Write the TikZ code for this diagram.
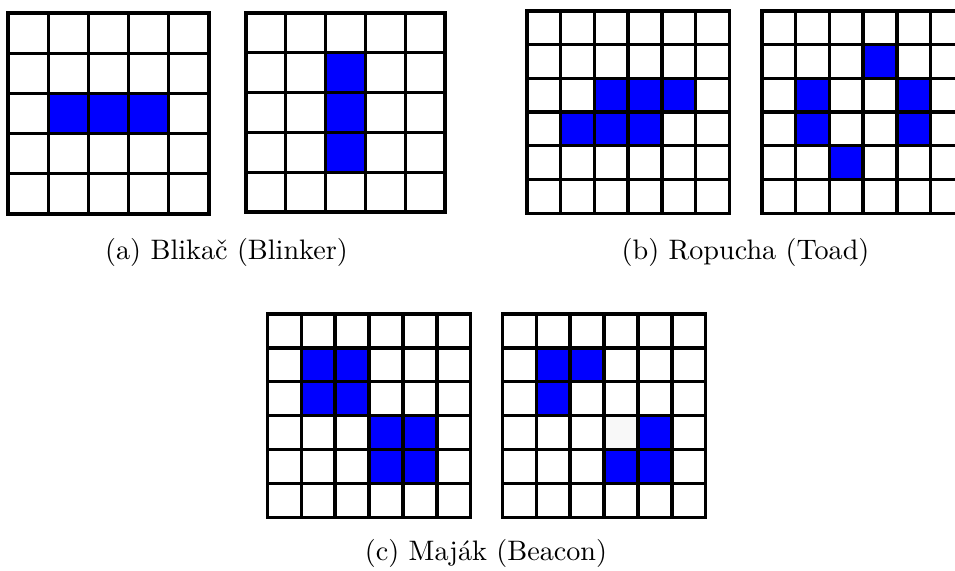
\documentclass[tikz,border=0pt]{standalone}
\usepackage{fontspec}
\definecolor{liveblue}{RGB}{0,0,255}
\definecolor{faintgray}{RGB}{248,248,248}
\newcommand{\lifegrid}[5]{%
  \foreach \cx/\cy in {#5} {\fill[live] ({#1+\cx*#3},{#2+\cy*#3}) rectangle +(#3,#3);}
  \foreach \k in {0,...,#4} {
    \draw[gridline] ({#1+\k*#3},#2) -- +(0,{#4*#3});
    \draw[gridline] (#1,{#2+\k*#3}) -- +({#4*#3},0);
  }
}
\begin{document}
\begin{tikzpicture}[x=0.355pt,y=-0.355pt,
  gridline/.style={line width=1.2pt, line cap=rect, black},
  live/.style={fill=liveblue},
  caption/.style={font=\fontsize{10}{12}\selectfont, inner sep=0pt}]
\useasboundingbox (0,0) rectangle (955,570);
\clip (0,0) rectangle (955,570);
% (a) Blinker
\lifegrid{8}{13}{40.2}{5}{1/2,2/2,3/2}
\lifegrid{246}{13}{39.8}{5}{2/1,2/2,2/3}
% (b) Toad
\lifegrid{527}{11}{33.7}{6}{2/2,3/2,4/2,1/3,2/3,3/3}
\lifegrid{762}{11}{33.7}{6}{3/1,1/2,4/2,1/3,4/3,2/4}
% (c) Beacon
\lifegrid{267.3}{314}{33.9}{6}{1/1,2/1,1/2,2/2,3/3,4/3,3/4,4/4}
\fill[faintgray] (502.3+3*33.9,314+3*33.9) rectangle +(33.9,33.9);
\lifegrid{502.3}{314}{33.9}{6}{1/1,2/1,1/2,4/3,3/4,4/4}
% captions
\node[caption] (capA) at (226.5,252.5) {(a) Blikač (Blinker)};
\node[caption] (capB) at (745.5,252.5) {(b) Ropucha (Toad)};
\node[caption] (capC) at (486,553) {(c) Maják (Beacon)};
\end{tikzpicture}
\end{document}
